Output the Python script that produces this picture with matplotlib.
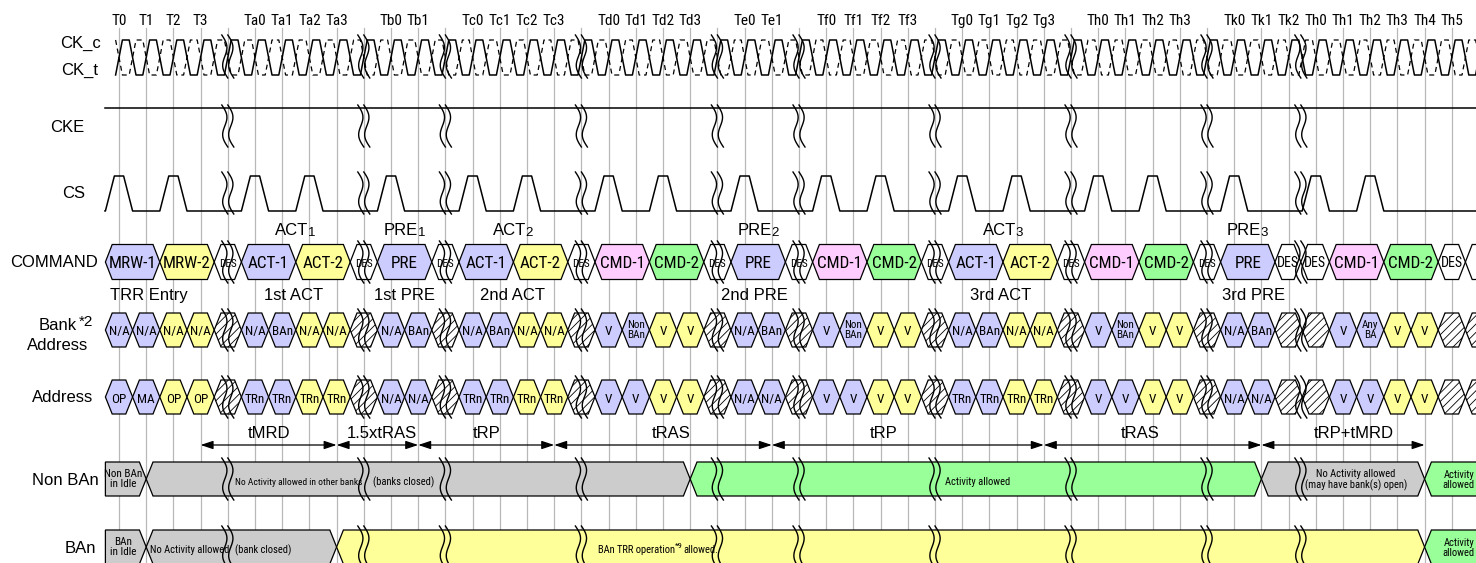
import os
import numpy as np
import matplotlib
matplotlib.use("Agg")
import matplotlib.pyplot as plt
from matplotlib import font_manager
from matplotlib.font_manager import FontProperties
from matplotlib.patches import Polygon, FancyArrowPatch

# ---- data (x positions are in clock-edge units) ----
clock_labels = ["T0", "T1", "T2", "T3", "", "Ta0", "Ta1", "Ta2", "Ta3", "",
                "Tb0", "Tb1", "", "Tc0", "Tc1", "Tc2", "Tc3", "",
                "Td0", "Td1", "Td2", "Td3", "", "Te0", "Te1", "",
                "Tf0", "Tf1", "Tf2", "Tf3", "", "Tg0", "Tg1", "Tg2", "Tg3", "",
                "Th0", "Th1", "Th2", "Th3", "", "Tk0", "Tk1", "Tk2",
                "Th0", "Th1", "Th2", "Th3", "Th4", "Th5"]
breaks = [4, 9, 12, 17, 22, 25, 30, 35, 40, 43.45]
cs_pulses = [0, 2, 5, 7, 10, 13, 15, 18, 20, 23, 26, 28, 31, 33, 36, 38, 41, 44, 46]

cmd_edges = [-0.5, 1.5, 3.5, 4.5, 6.5, 8.5, 9.5, 11.5, 12.5, 14.5, 16.5, 17.5,
             19.5, 21.5, 22.5, 24.5, 25.5, 27.5, 29.5, 30.5, 32.5, 34.5, 35.5,
             37.5, 39.5, 40.5, 42.5, 43.45, 44.5, 46.5, 48.5, 49.5, 51.0]
cmd_labels = ["MRW-1", "MRW-2", "DES", "ACT-1", "ACT-2", "DES", "PRE", "DES",
              "ACT-1", "ACT-2", "DES", "CMD-1", "CMD-2", "DES", "PRE", "DES",
              "CMD-1", "CMD-2", "DES", "ACT-1", "ACT-2", "DES", "CMD-1", "CMD-2",
              "DES", "PRE", "DES", "DES", "CMD-1", "CMD-2", "DES", ""]

above_labels = [("ACT", "1", 6.5), ("PRE", "1", 10.5), ("ACT", "2", 14.5),
                ("PRE", "2", 23.5), ("ACT", "3", 32.5), ("PRE", "3", 41.5)]
below_labels = ["TRR Entry", "1st ACT", "1st PRE", "2nd ACT", "2nd PRE", "3rd ACT", "3rd PRE"]
below_x = [1.1, 6.4, 10.5, 14.45, 23.35, 32.4, 41.7]

bank_labels = ["N/A", "N/A", "N/A", "N/A", "",
               "N/A", "BAn", "N/A", "N/A", "",
               "N/A", "BAn", "",
               "N/A", "BAn", "N/A", "N/A", "",
               "V", "Non\nBAn", "V", "V", "",
               "N/A", "BAn", "",
               "V", "Non\nBAn", "V", "V", "",
               "N/A", "BAn", "N/A", "N/A", "",
               "V", "Non\nBAn", "V", "V", "",
               "N/A", "BAn", "", "",
               "V", "Any\nBA", "V", "V", "", ""]
addr_labels = ["OP", "MA", "OP", "OP", "",
               "TRn", "TRn", "TRn", "TRn", "",
               "N/A", "N/A", "",
               "TRn", "TRn", "TRn", "TRn", "",
               "V", "V", "V", "V", "",
               "N/A", "N/A", "",
               "V", "V", "V", "V", "",
               "TRn", "TRn", "TRn", "TRn", "",
               "V", "V", "V", "V", "",
               "N/A", "N/A", "", "",
               "V", "V", "V", "V", "", ""]
cell_kind = "bbyyh" "bbyyh" "bbh" "bbyyh" "bbyyh" "bbh" "bbyyh" "bbyyh" "bbyyh" "bbhhbbyyhh"

span_start = [3, 8, 11, 16, 24, 34, 42]
span_end = [8, 11, 16, 24, 34, 42, 48]
span_labels = ["tMRD", "1.5xtRAS", "tRP", "tRAS", "tRP", "tRAS", "tRP+tMRD"]
span_label_x = [5.5, 9.65, 13.5, 20.3, 28.1, 37.55, 45.4]

nonban_edges = [-0.5, 1, 21, 42, 48, 51]
nonban_kind = ["gray", "gray", "green", "gray", "green"]
ban_edges = [-0.5, 1, 8, 48, 51]
ban_kind = ["gray", "gray", "yellow", "green"]

COL = {"b": "#ccccff", "y": "#ffff99", "pink": "#ffccff", "green": "#99ff99",
       "gray": "#cccccc", "yellow": "#ffff99", "w": "white"}
CMD_COL = {"MRW-1": "b", "MRW-2": "y", "ACT-1": "b", "ACT-2": "y", "PRE": "b",
           "CMD-1": "pink", "CMD-2": "green", "DES": "w", "": "w"}

# ---- fonts: look for a condensed face for the small in-box text ----
names = {f.name for f in font_manager.fontManager.ttflist}
MAIN = "Liberation Sans" if "Liberation Sans" in names else "DejaVu Sans"
plt.rcParams["font.family"] = [MAIN, "DejaVu Sans"]
plt.rcParams["hatch.linewidth"] = 0.6

files = [f.fname for f in font_manager.fontManager.ttflist]
narrow_file = None
for key in ["LiberationSansNarrow-Regular", "ArialNarrow", "RobotoCondensed-Regular",
            "DejaVuSansCondensed.ttf", "OpenSans_Condensed-Regular",
            "OpenSansCondensed-Regular", "NotoSans-Condensed.ttf",
            "NotoSansDisplay-Condensed", "Roboto_Condensed-Regular"]:
    hit = [p for p in files if key.lower() in os.path.basename(p).lower()]
    if hit:
        narrow_file = hit[0]
        break
NS = 1.0 if narrow_file else 0.84


def nfont(size):
    if narrow_file:
        return FontProperties(fname=narrow_file, size=size * NS)
    return FontProperties(family=MAIN, size=size * NS)


X0, DX = 119.0, 27.2          # pixel of T0 and pixels per clock
W, H = 1476, 563


def ix(p):
    return (p - X0) / DX


fig = plt.figure(figsize=(W / 100, H / 100), dpi=100)
ax = fig.add_axes([0, 0, 1, 1])
ax.set_xlim(ix(0), ix(W))
ax.set_ylim(H, 0)
ax.axis("off")

S = 0.25  # slope of bus transitions


def hexagon(x0, x1, yc, hh, fc, hatch=None, flat_left=False):
    if flat_left:
        pts = [(x0, yc - hh), (x1 - S, yc - hh), (x1, yc), (x1 - S, yc + hh), (x0, yc + hh)]
    else:
        pts = [(x0, yc), (x0 + S, yc - hh), (x1 - S, yc - hh), (x1, yc),
               (x1 - S, yc + hh), (x0 + S, yc + hh)]
    ax.add_patch(Polygon(pts, closed=True, facecolor=fc, edgecolor="black",
                         lw=0.9, hatch=hatch, zorder=3))


def squiggle(xc, y0, y1):
    t = np.linspace(0, 1, 50)
    for off in (-3.0, 3.0):
        xs = xc + (off + 3.5 * np.sin(2 * np.pi * t) + 6 * (t - 0.5)) / DX
        ax.plot(xs, y0 + t * (y1 - y0), color="black", lw=1.0, zorder=7)


# grid lines and clock names
for k in range(len(clock_labels)):
    ax.plot([k, k], [28, H], color="#b8b8b8", lw=0.9, zorder=0)
    ax.text(k, 25, clock_labels[k], ha="center", va="baseline",
            fontproperties=nfont(11 if narrow_file else 11.3))

# clock
CK_HI, CK_LO = 40, 75
ck_x, ck_t = [], []
for k in range(0, 52):
    ck_x += [k - 0.125, k + 0.125, k + 0.375, k + 0.625]
    ck_t += [CK_LO, CK_HI, CK_HI, CK_LO]
ck_c = [CK_HI + CK_LO - v for v in ck_t]
ax.plot(ck_x, ck_t, color="black", lw=1.1, zorder=2)
ax.plot(ck_x, ck_c, color="black", lw=0.9, ls=(0, (4, 3)), zorder=2)

# CKE
ax.plot([ix(105), ix(W)], [108, 108], color="black", lw=1.1, zorder=2)

# CS
CS_HI, CS_LO = 176, 211
cs_x, cs_y = [ix(105)], [CS_LO]
for k in cs_pulses:
    cs_x += [k - 0.5, k - 0.17, k + 0.17, k + 0.5]
    cs_y += [CS_LO, CS_HI, CS_HI, CS_LO]
cs_x.append(ix(W))
cs_y.append(CS_LO)
ax.plot(cs_x, cs_y, color="black", lw=1.1, zorder=2)

# COMMAND
for i, lab in enumerate(cmd_labels):
    x0, x1 = cmd_edges[i], cmd_edges[i + 1]
    hexagon(x0, x1, 262, 17.5, COL[CMD_COL[lab]])
    if lab == "DES":
        brk = any(x0 < b < x1 for b in breaks)
        ax.text((x0 + x1) / 2, 267, lab, ha="center", va="baseline",
                fontproperties=nfont(8 if brk else 10), zorder=5)
    elif lab:
        ax.text((x0 + x1) / 2, 268, lab, ha="center", va="baseline",
                fontproperties=nfont(12.3), zorder=5)

for main, sub, x in above_labels:
    t = ax.text(x - 0.14, 235, main, ha="center", va="baseline", fontsize=12)
    ax.annotate(sub, xy=(1, 0), xycoords=t, xytext=(-0.3, -1), textcoords="offset points",
                ha="left", va="bottom", fontsize=9.5)
for lab, x in zip(below_labels, below_x):
    ax.text(x, 300, lab, ha="center", va="baseline", fontsize=12)

# Bank address / Address buses
for labels, yc, base in [(bank_labels, 330, 335), (addr_labels, 397, 403)]:
    for k, lab in enumerate(labels):
        kind = cell_kind[k]
        if kind == "h":
            hexagon(k - 0.5, k + 0.5, yc, 17, "white", hatch="////")
        else:
            hexagon(k - 0.5, k + 0.5, yc, 17, COL[kind])
        if "\n" in lab:
            ax.text(k, yc, lab, ha="center", va="center", fontproperties=nfont(8),
                    linespacing=0.95, zorder=5)
        elif lab:
            ax.text(k, base, lab, ha="center", va="baseline", fontproperties=nfont(9.5),
                    zorder=5)

# timing spans
for x0, x1, lab, lx in zip(span_start, span_end, span_labels, span_label_x):
    ax.add_patch(FancyArrowPatch((x0, 445), (x1, 445),
                                 arrowstyle="<|-|>,head_length=0.75,head_width=0.25",
                                 mutation_scale=10, shrinkA=0, shrinkB=0,
                                 color="black", lw=0.9, zorder=4))
    ax.text(lx, 438, lab, ha="center", va="baseline", fontsize=12)

# Non BAn / BAn status rows
for edges, kinds, yc in [(nonban_edges, nonban_kind, 479), (ban_edges, ban_kind, 547)]:
    for i, kind in enumerate(kinds):
        hexagon(edges[i], edges[i + 1], yc, 17, COL[kind], flat_left=(i == 0))

fs_small = 7.6 if narrow_file else 7
sm = dict(fontproperties=nfont(fs_small), zorder=5)
ax.text(0.15, 479, "Non BAn\nin Idle", ha="center", va="center", linespacing=1.0,
        fontproperties=nfont(8), zorder=5)
ax.text(0.15, 547, "BAn\nin Idle", ha="center", va="center", linespacing=1.0,
        fontproperties=nfont(8), zorder=5)
ax.text(ix(235), 485, "No Activity allowed in other banks", ha="left", va="baseline",
        fontproperties=nfont(fs_small * 0.9), zorder=5)
ax.text(ix(373), 485, "(banks closed)", ha="left", va="baseline", **sm)
ax.text(31.55, 485, "Activity allowed", ha="center", va="baseline", **sm)
ax.text(45.48, 480, "No Activity allowed\n(may have bank(s) open)", ha="center",
        va="center", linespacing=1.0, **sm)
ax.text(ix(1475), 480, "Activity\nallowed", ha="right", va="center", linespacing=1.0, **sm)
ax.text(ix(150), 553, "No Activity allowed", ha="left", va="baseline", **sm)
ax.text(ix(235), 553, "(bank closed)", ha="left", va="baseline", **sm)
t1 = ax.text(ix(598), 553, "BAn TRR operation", ha="left", va="baseline", **sm)
t2 = ax.annotate("*9", xy=(1, 1), xycoords=t1, xytext=(0.3, 1.5), textcoords="offset points",
                 ha="left", va="top", fontproperties=nfont(fs_small * 0.8), zorder=5)
ax.annotate("allowed.", xy=(1, 0), xycoords=(t2, t1), xytext=(0.3, 0),
            textcoords="offset points", ha="left", va="bottom", **sm)
ax.text(ix(1475), 548, "Activity\nallowed", ha="right", va="center", linespacing=1.0, **sm)

# break marks across every row
rows_span = [(35, 78), (105, 147), (172, 214), (241, 283), (309, 351), (376, 418),
             (458, 500), (526, 568)]
for b in breaks:
    for y0, y1 in rows_span:
        squiggle(b, y0, y1)

# row labels
rl = dict(fontsize=12, va="baseline", ha="center")
ax.text(ix(80.5), 48, "CK_c", **rl)
ax.text(ix(80), 75, "CK_t", **rl)
ax.text(ix(67.5), 132, "CKE", **rl)
ax.text(ix(73.5), 198, "CS", **rl)
ax.text(ix(54), 267, "COMMAND", **rl)
tb = ax.text(ix(77), 330, "Bank", fontsize=12, va="baseline", ha="right")
ax.annotate("*2", xy=(1, 1), xycoords=tb, xytext=(1.5, 2), textcoords="offset points",
            ha="left", va="top", fontsize=11)
ax.text(ix(57.5), 350, "Address", **rl)
ax.text(ix(62.5), 402, "Address", **rl)
ax.text(ix(65.5), 485, "Non BAn", **rl)
ax.text(ix(80.5), 553, "BAn", **rl)

fig.savefig("out.png", dpi=100)
